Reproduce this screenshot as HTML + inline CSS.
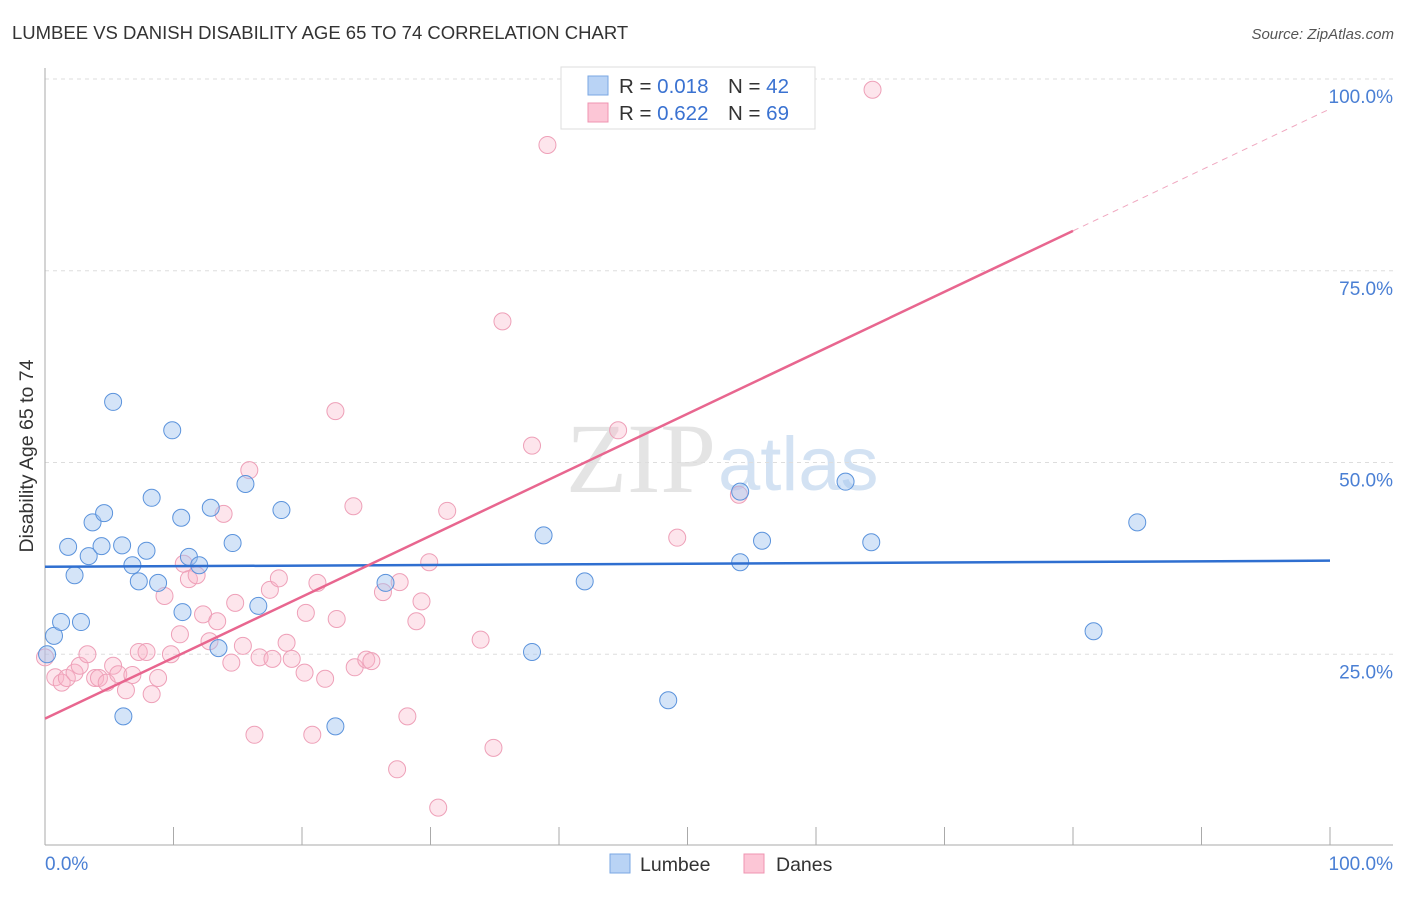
<!DOCTYPE html>
<html><head><meta charset="utf-8"><style>
body{margin:0;background:#fff;font-family:"Liberation Sans",sans-serif}
</style></head><body>
<svg width="1406" height="892" xmlns="http://www.w3.org/2000/svg" id="chart">
<text x="12" y="39" font-size="18.5" fill="#333">LUMBEE VS DANISH DISABILITY AGE 65 TO 74 CORRELATION CHART</text>
<text x="1394" y="39" font-size="15" fill="#555" font-style="italic" text-anchor="end">Source: ZipAtlas.com</text>
<text x="716" y="492" font-size="100" fill="#e4e4e4" text-anchor="end" font-family="Liberation Serif">ZIP</text>
<text x="718" y="490" font-size="76" fill="#d3e2f3">atlas</text>
<g id="grid"></g>
<g id="axes"></g>
<g id="pts"></g>
<g id="lines"></g>
<text x="33" y="456" font-size="19.5" fill="#333" text-anchor="middle" transform="rotate(-90 33 456)">Disability Age 65 to 74</text>
<text x="45" y="870" font-size="19" fill="#4a7fd4">0.0%</text>
<text x="1393" y="870" font-size="19" fill="#4a7fd4" text-anchor="end">100.0%</text>
<g>
<rect x="561" y="67" width="254" height="62" fill="#fff" stroke="#ddd"/>
<rect x="588" y="76" width="20" height="19" fill="#b9d3f5" stroke="#7aa7e3"/>
<rect x="588" y="103" width="20" height="19" fill="#fcc6d6" stroke="#ef94b1"/>
<text x="619" y="93" font-size="20.5" fill="#333">R = <tspan fill="#3a72d1">0.018</tspan></text>
<text x="728" y="93" font-size="20.5" fill="#333">N = <tspan fill="#3a72d1">42</tspan></text>
<text x="619" y="120" font-size="20.5" fill="#333">R = <tspan fill="#3a72d1">0.622</tspan></text>
<text x="728" y="120" font-size="20.5" fill="#333">N = <tspan fill="#3a72d1">69</tspan></text>
</g>
<g>
<rect x="610" y="854" width="20" height="19" fill="#b9d3f5" stroke="#7aa7e3"/>
<text x="640" y="871" font-size="19.5" fill="#333">Lumbee</text>
<rect x="744" y="854" width="20" height="19" fill="#fcc6d6" stroke="#ef94b1"/>
<text x="776" y="871" font-size="19.5" fill="#333">Danes</text>
</g>
</svg>
<script>
const yTicks=[25,50,75,100];
const yTickLabels=["25.0%","50.0%","75.0%","100.0%"];
const xTicks=[0,10,20,30,40,50,60,70,80,90,100];
const lumbeeX=[0.16,0.7,1.25,2.8,1.8,2.3,3.4,3.7,4.4,4.6,5.3,6.0,6.1,6.8,7.3,7.9,8.3,8.8,9.9,10.6,10.7,11.2,12.0,12.9,13.5,14.6,15.6,16.6,18.4,22.6,26.5,37.9,38.8,42.0,48.5,54.1,54.1,55.8,62.3,64.3,81.6,85.0];
const lumbeeY=[25.0,27.4,29.2,29.2,39.0,35.3,37.8,42.2,39.1,43.4,57.9,39.2,16.9,36.6,34.5,38.5,45.4,34.3,54.2,42.8,30.5,37.7,36.6,44.1,25.8,39.5,47.2,31.3,43.8,15.6,34.3,25.3,40.5,34.5,19.0,37.0,46.2,39.8,47.5,39.6,28.0,42.2];
const danesX=[0,0.8,1.3,1.7,2.3,2.7,3.3,3.9,4.2,4.8,5.3,5.7,6.3,6.8,7.3,7.9,8.3,8.8,9.3,9.8,10.5,10.8,11.2,11.8,12.3,12.8,13.4,13.9,14.5,14.8,15.4,15.9,16.3,16.7,17.5,17.7,18.2,18.8,19.2,20.2,20.3,20.8,21.2,21.8,22.6,22.7,24.0,24.1,25.0,25.4,26.3,27.4,27.6,28.2,28.9,29.3,29.9,30.6,31.3,33.9,34.9,35.6,37.9,39.1,44.6,49.2,51.8,54.0,64.4];
const danesY=[24.6,22.0,21.3,21.9,22.6,23.5,25.0,21.9,21.9,21.3,23.5,22.4,20.3,22.3,25.3,25.3,19.8,21.9,32.6,25.0,27.6,36.8,34.8,35.3,30.2,26.7,29.3,43.3,23.9,31.7,26.1,49.0,14.5,24.6,33.4,24.4,34.9,26.5,24.4,22.6,30.4,14.5,34.3,21.8,56.7,29.6,44.3,23.3,24.3,24.1,33.1,10.0,34.4,16.9,29.3,31.9,37.0,5.0,43.7,26.9,12.8,68.4,52.2,91.4,54.2,40.2,99.9,45.8,98.6];
const lumbeeTrend=[36.4,37.2];
const danesTrend=[16.6,96.1];
const danesSolidEnd=80;
const NS="http://www.w3.org/2000/svg";
const X=v=>45+v*12.85, Y=v=>846-v*7.67;
function mk(t,a,p){const e=document.createElementNS(NS,t);for(const k in a)e.setAttribute(k,a[k]);document.getElementById(p).appendChild(e);return e;}
yTicks.forEach((t,i)=>{
 const g=mk('line',{x1:45,x2:1393,y1:Y(t),y2:Y(t),stroke:'#ddd','stroke-dasharray':'4,4'},'grid');
 
 
 const l=mk('text',{x:1393,y:Y(t)+24,'font-size':19,fill:'#4a7fd4','text-anchor':'end'},'grid');
 l.textContent=yTickLabels[i];
 
 
});
const ax=mk('line',{x1:45,x2:1393,y1:845,y2:845,stroke:'#aaa'},'axes');


const ay=mk('line',{x1:45,x2:45,y1:68,y2:845,stroke:'#aaa'},'axes');


xTicks.forEach(t=>{const e=mk('line',{x1:X(t),x2:X(t),y1:827,y2:845,stroke:'#aaa'},'axes');
 
 });
danesX.forEach((x,i)=>{const c=mk('circle',{cx:X(x),cy:Y(danesY[i]),r:8.5,fill:'rgba(248,180,200,0.35)',stroke:'#eea0b8','stroke-width':1},'pts');
 
 });
lumbeeX.forEach((x,i)=>{const c=mk('circle',{cx:X(x),cy:Y(lumbeeY[i]),r:8.5,fill:'rgba(160,196,240,0.45)',stroke:'#5b93dc','stroke-width':1},'pts');
 
 });
const bl=mk('line',{x1:X(0),x2:X(100),y1:Y(lumbeeTrend[0]),y2:Y(lumbeeTrend[1]),stroke:'#2f6fd0','stroke-width':2.5},'lines');


const sl=(danesTrend[1]-danesTrend[0])/100, ye=danesTrend[0]+sl*danesSolidEnd;
const pl=mk('line',{x1:X(0),x2:X(danesSolidEnd),y1:Y(danesTrend[0]),y2:Y(ye),stroke:'#e8668f','stroke-width':2.5},'lines');


const pd=mk('line',{x1:X(danesSolidEnd),x2:X(100),y1:Y(ye),y2:Y(danesTrend[1]),stroke:'#f0a8c0','stroke-width':1,'stroke-dasharray':'6,5'},'lines');


</script>
</body></html>
